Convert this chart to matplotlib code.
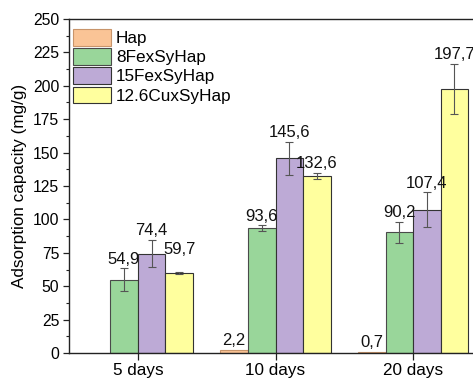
import matplotlib
matplotlib.use("Agg")
import matplotlib.pyplot as plt
import numpy as np

plt.rcParams['font.family'] = ['Liberation Sans', 'DejaVu Sans']

groups = ["5 days", "10 days", "20 days"]
series = ["Hap", "8FexSyHap", "15FexSyHap", "12.6CuxSyHap"]
hap = [np.nan, 2.2, 0.7]
fe8 = [54.9, 93.6, 90.2]
fe15 = [74.4, 145.6, 107.4]
cu126 = [59.7, 132.6, 197.7]
hap_err = [0, 0, 0]
fe8_err = [8.4, 2.0, 8.0]
fe15_err = [10.2, 12.5, 12.9]
cu126_err = [0.8, 2.5, 18.7]
yticks = list(range(0, 251, 25))

values = [hap, fe8, fe15, cu126]
errors = [hap_err, fe8_err, fe15_err, cu126_err]
colors = ['#FAC496', '#99D69A', '#BDAAD6', '#FFFF9E']
edges = ['#C8946A', '#4a4a4a', '#333333', '#333333']
# extra vertical gap for individual value labels (styling only)
label_extra = [[0, 0, 0], [0, 0, 0], [0, 0, 0], [10, 0, 0]]

fig = plt.figure(figsize=(4.73, 3.80), dpi=100)
ax = fig.add_axes([69/473, 27/380, 413/473, 334/380])

x = np.arange(1, len(groups) + 1)
w = 0.2
offsets = [-1.5, -0.5, 0.5, 1.5]
for vals, errs, col, ec, off, name, extra in zip(values, errors, colors, edges, offsets, series, label_extra):
    pos = x + off * w
    v = np.array(vals, dtype=float)
    e = np.array(errs, dtype=float)
    ax.bar(pos, v, width=w, color=col, edgecolor=ec, linewidth=0.8, label=name, zorder=2)
    mask = (~np.isnan(v)) & (e > 0)
    ax.errorbar(pos[mask], v[mask], yerr=e[mask], fmt='none', ecolor='#555555',
                elinewidth=0.8, capsize=2.9, capthick=0.8, zorder=3)
    for p, val, er, ex in zip(pos, v, e, extra):
        if np.isnan(val):
            continue
        ax.text(p, val + er + 6.8 + ex, f"{val:.1f}".replace('.', ','), ha='center', va='center',
                fontsize=12, color='#111111', zorder=4)

ax.set_xlim(0.5, 3.5)
ax.set_ylim(0, 250)
ax.set_yticks(yticks)
ax.set_yticks(np.arange(12.5, 250, 25), minor=True)
ax.set_xticks(x)
ax.set_xticklabels(groups, fontsize=12.3)
ax.tick_params(axis='y', labelsize=11.3, length=4, width=0.9, pad=3, color='#222222')
ax.tick_params(axis='y', which='minor', length=2.5, width=0.8, color='#222222')
ax.tick_params(axis='x', length=5, width=0.9, pad=2.5, color='#222222')
for s in ['left', 'bottom', 'top', 'right']:
    ax.spines[s].set_linewidth(1.0)
    ax.spines[s].set_color('#222222')

ax.set_ylabel("Adsorption capacity (mg/g)", fontsize=12.3, labelpad=4)

leg = ax.legend(loc='upper left', bbox_to_anchor=(0.009, 0.970), frameon=False,
                fontsize=12.3, handlelength=2.24, handleheight=1.12, labelspacing=0.12,
                handletextpad=0.3, borderpad=0, borderaxespad=0)

fig.savefig("out.png", dpi=100)
